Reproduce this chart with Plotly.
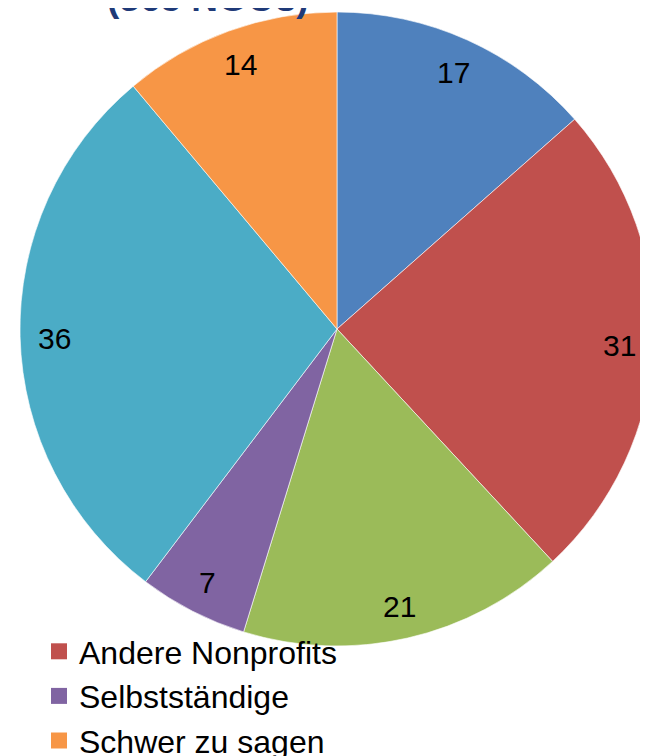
import math
import plotly.graph_objects as go

# ---- data ----
slice_values = [17, 31, 21, 7, 36, 14]
slice_colors = ["#4F81BD", "#C0504D", "#9BBB59", "#8064A2", "#4BACC6", "#F79646"]
slice_labels = ["Kategorie 1", "Andere Nonprofits", "Kategorie 3",
                "Selbstständige", "Kategorie 5", "Schwer zu sagen"]
legend_labels = ["Andere Nonprofits", "Selbstständige", "Schwer zu sagen"]
legend_colors = ["#C0504D", "#8064A2", "#F79646"]
title_text = "(365 NGOs)"

W, H = 648, 756
FONT = "Liberation Sans, Arial, sans-serif"

# pie geometry (figure pixels)
cx, cy, R = 329, 321, 317
dom_x = [(cx - R) / W, (cx + R) / W]
dom_y = [1 - (cy + R) / H, 1 - (cy - R) / H]

fig = go.Figure()
fig.add_trace(go.Pie(
    values=slice_values,
    labels=slice_labels,
    marker=dict(colors=slice_colors, line=dict(color="white", width=0.6)),
    sort=False,
    direction="clockwise",
    rotation=0,
    textinfo="none",
    showlegend=False,
    domain=dict(x=dom_x, y=dom_y),
))

# value labels placed along each slice bisector near the rim
total = sum(slice_values)
cum = 0
LR = 0.893 * R
for v in slice_values:
    mid = (cum + v / 2) / total * 2 * math.pi
    cum += v
    px = cx + LR * math.sin(mid)
    py = cy - LR * math.cos(mid) + 2
    fig.add_annotation(x=px / W, y=1 - py / H, xref="paper", yref="paper",
                       text=str(v), showarrow=False,
                       font=dict(family=FONT, size=30, color="black"),
                       xanchor="center", yanchor="middle")

# legend entries (only visible ones)
for i, (lab, col) in enumerate(zip(legend_labels, legend_colors)):
    fig.add_trace(go.Scatter(x=[None], y=[None], mode="markers", name=lab,
                             legendgroup=f"g{i}",
                             marker=dict(symbol="square", size=16, color=col)))

fig.add_annotation(x=97 / W, y=1 - 13 / H, xref="paper", yref="paper",
                   text=f"<b>{title_text}</b>", showarrow=False,
                   font=dict(family=FONT, size=37, color="#1F3A78"),
                   xanchor="left", yanchor="bottom")

fig.update_layout(
    width=W, height=H,
    margin=dict(l=0, r=0, t=0, b=0, autoexpand=False),
    paper_bgcolor="white", plot_bgcolor="white",
    xaxis=dict(visible=False), yaxis=dict(visible=False),
    legend=dict(x=31 / W, y=1 - 616 / H, xanchor="left", yanchor="top",
                font=dict(family=FONT, size=32, color="black"),
                bgcolor="rgba(0,0,0,0)", tracegroupgap=0,
                itemclick=False),
)

fig.write_html("out.html")
